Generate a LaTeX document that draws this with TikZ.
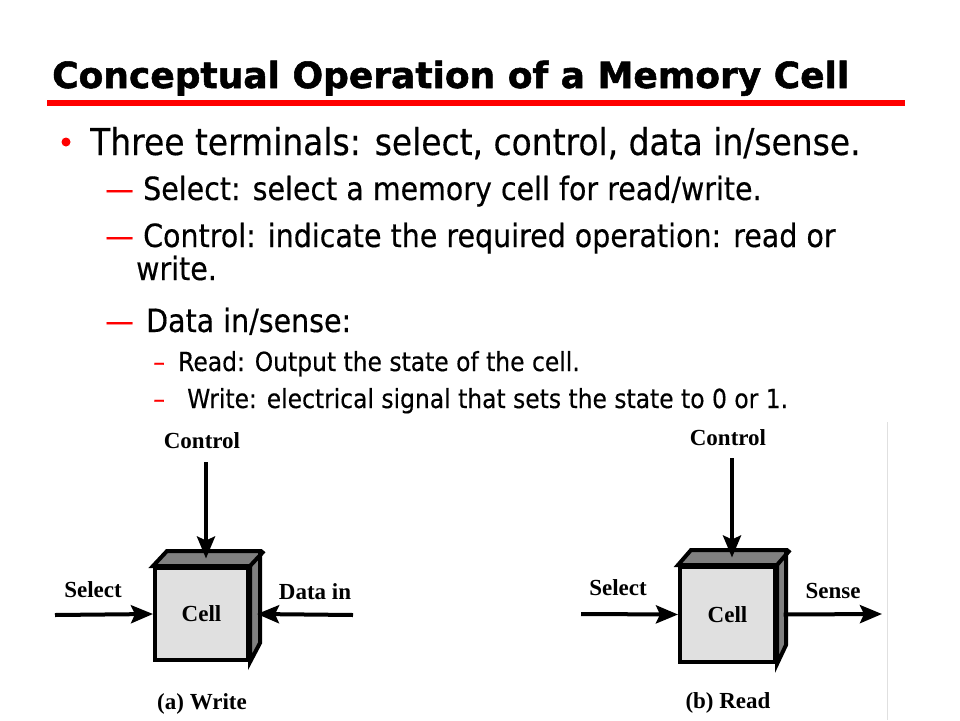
\documentclass[tikz,border=0pt]{standalone}
\usepackage{fontspec}
\usetikzlibrary{arrows.meta,calc}
\newfontfamily\headfont{DejaVu Sans}[FakeStretch=1.0, FakeBold=1.5]
\newfontfamily\bodyfont{DejaVu Sans}[FakeStretch=0.89, FakeBold=0.4]
\newfontfamily\figfont{Liberation Serif}
\begin{document}
\begin{tikzpicture}[x=1pt, y=-1pt,
    head/.style={anchor=base west, inner sep=0pt, font=\headfont\bfseries\fontsize{36}{40}\selectfont},
    lvlone/.style={anchor=base west, inner sep=0pt, font=\bodyfont\fontsize{37}{40}\selectfont},
    lvltwo/.style={anchor=base west, inner sep=0pt, font=\bodyfont\fontsize{32}{36}\selectfont},
    lvlthree/.style={anchor=base west, inner sep=0pt, font=\bodyfont\fontsize{26.3}{30}\selectfont},
    reddash/.style={text=red},
    cell/.style={rectangle, draw=black, line width=4pt, fill=black!12, minimum width=93pt, minimum height=92pt, inner sep=0pt, font=\figfont\bfseries\fontsize{23}{26}\selectfont},
    face/.style={draw=black, line width=4pt, fill=black!50, line join=miter},
    lbl/.style={inner sep=0pt, font=\figfont\bfseries\fontsize{23}{26}\selectfont},
    wire/.style={line width=4pt, -{Stealth[length=22pt, width=18pt, inset=4pt]}}
]
\useasboundingbox (0,0) rectangle (960,720);

\node[head] (title) at (52,88) {Conceptual Operation of a Memory Cell};
\fill[red] (47,100) rectangle (905,106);

\fill[red] (66,142) circle (4.5);
\node[lvlone] (p1) at (90,155) {Three terminals: select, control, data in/sense.};

\node[lvltwo, reddash] (d1) at (105,200) {—};
\node[lvltwo] (p2) at (143,200) {Select: select a memory cell for read/write.};
\node[lvltwo, reddash] (d2) at (105,247) {—};
\node[lvltwo] (p3) at (143,247) {Control: indicate the required operation: read or};
\node[lvltwo] (p4) at (136,280) {write.};
\node[lvltwo, reddash] (d3) at (105,332) {—};
\node[lvltwo] (p5) at (146,332) {Data in/sense:};

\node[lvlthree, reddash] (d4) at (153,371) {–};
\node[lvlthree] (p6) at (178,371) {Read: Output the state of the cell.};
\node[lvlthree, reddash] (d5) at (153,408) {–};
\node[lvlthree] (p7) at (187,408) {Write: electrical signal that sets the state to 0 or 1.};

\node[cell] (CA) at (201.5,614) {Cell};
\draw[face] (CA.north west) -- ++(14,-15) -- ++(93,0) -- ++(0,92) -- (CA.south east) -- (CA.north east) -- cycle;
\draw[face] (CA.north east) -- ++(14,-15);

\node[lbl] (ctlA) at (202,441) {Control};
\node[lbl] (selA) at (93,590) {Select};
\node[lbl] (datA) at (315,592) {Data in};
\node[lbl] (capA) at (202,704) {(a) Write};

\coordinate (inCA) at (206,462);
\coordinate (inSA) at (55,615);
\coordinate (inDA) at (353,615);
\draw[wire] (inCA) -- ($(CA.north)+(4.5,-7.5)$);
\draw[wire] (inSA) -- (CA.west);
\draw[wire] (inDA) -- ($(CA.east)+(7,0)$);

\draw[black!12, line width=1pt] (887,422) -- (887,720);

\node[cell, minimum width=95pt, minimum height=95pt] (CB) at (727.5,614.5) {Cell};
\draw[face] (CB.north west) -- ++(13,-15) -- ++(95,0) -- ++(0,95) -- (CB.south east) -- (CB.north east) -- cycle;
\draw[face] (CB.north east) -- ++(13,-15);

\node[lbl] (ctlB) at (728,438) {Control};
\node[lbl] (selB) at (618,588) {Select};
\node[lbl] (snsB) at (833,591) {Sense};
\node[lbl] (capB) at (728,703) {(b) Read};

\coordinate (inCB) at (732,458);
\coordinate (inSB) at (581,614);
\coordinate (outSB) at (882,614);
\draw[wire] (inCB) -- ($(CB.north)+(4.5,-7.5)$);
\draw[wire] (inSB) -- (CB.west);
\draw[wire] ($(CB.east)+(6.5,0)$) -- (outSB);

\end{tikzpicture}
\end{document}
